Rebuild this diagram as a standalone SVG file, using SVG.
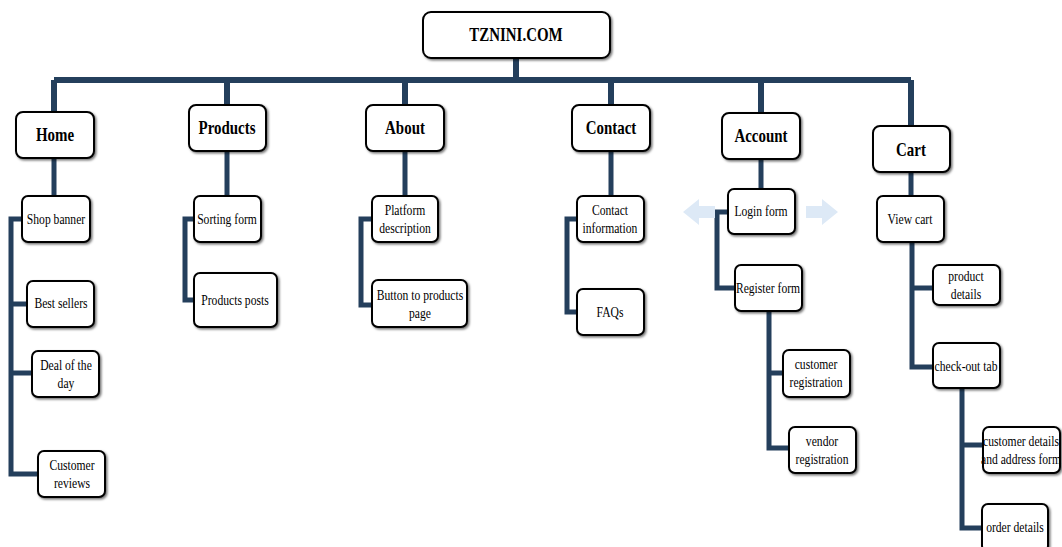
<svg xmlns="http://www.w3.org/2000/svg" width="1062" height="547" viewBox="0 0 1062 547">
  <defs>
    <filter id="shadow" x="-10%" y="-10%" width="130%" height="140%">
      <feDropShadow dx="1.5" dy="1.5" stdDeviation="0.8" flood-color="#000" flood-opacity="0.55"/>
    </filter>
    <style>
      .box { fill: #ffffff; stroke: #000000; stroke-width: 2; filter: url(#shadow); }
      .wire { fill: none; stroke: #243f5c; stroke-width: 5; stroke-linejoin: miter; }
      .bar { fill: none; stroke: #243f5c; stroke-width: 6; }
      .hint { fill: #dde9f6; }
      text { font-family: "Liberation Serif", "Times New Roman", serif; fill: #000; text-anchor: middle; }
      .t1 { font-size: 18px; font-weight: bold; }
      .t2 { font-size: 14px; }
    </style>
  </defs>
  <rect width="1062" height="547" fill="#ffffff"/>

  <!-- connectors -->
  <g id="connectors">
    <path class="bar" d="M516,58 V80 M54,80 H911 M54,80 V113 M227,80 V106 M405,80 V106 M611,80 V106 M761,80 V114 M911,80 V127"/>
    <!-- Home branch -->
    <path class="wire" d="M54,158 V197 M24,219 H11 V474 H40 M11,304 H29 M11,373 H34"/>
    <!-- Products branch -->
    <path class="wire" d="M227,151 V197 M196,219 H185 V300 H196"/>
    <!-- About branch -->
    <path class="wire" d="M405,151 V197 M374,219 H361 V305 H374"/>
    <!-- Contact branch -->
    <path class="wire" d="M611,151 V197 M579,219 H567 V312 H579"/>
    <!-- Account branch -->
    <path class="wire" d="M761,159 V190 M730,212 H717 V288 H737 M769,311 V448 H791 M769,373 H785"/>
    <!-- Cart branch -->
    <path class="wire" d="M911,172 V197 M912,242 V367 H935 M912,288 H935 M962,388 V528 H984 M962,445 H985"/>
  </g>

  <!-- faint direction hints beside the login form -->
  <g id="hints">
    <polygon class="hint" points="683,212 699,199 699,206 715,206 715,218 699,218 699,225"/>
    <polygon class="hint" points="838,212 822,199 822,206 806,206 806,218 822,218 822,225"/>
  </g>

  <!-- root -->
  <g id="root">
    <rect class="box" x="423" y="12" width="187" height="46" rx="8"/>
    <text class="t1" transform="translate(516,41) scale(0.83,1)">TZNINI.COM</text>
  </g>

  <!-- top-level pages -->
  <g id="home">
    <rect class="box" x="16" y="112" width="78" height="46" rx="7"/>
    <text class="t1" transform="translate(55,141) scale(0.83,1)">Home</text>
  </g>
  <g id="products">
    <rect class="box" x="189" y="105" width="77" height="46" rx="7"/>
    <text class="t1" transform="translate(227,134) scale(0.83,1)">Products</text>
  </g>
  <g id="about">
    <rect class="box" x="366" y="105" width="78" height="46" rx="7"/>
    <text class="t1" transform="translate(405,134) scale(0.83,1)">About</text>
  </g>
  <g id="contact">
    <rect class="box" x="572" y="105" width="78" height="46" rx="7"/>
    <text class="t1" transform="translate(611,134) scale(0.83,1)">Contact</text>
  </g>
  <g id="account">
    <rect class="box" x="722" y="113" width="78" height="46" rx="7"/>
    <text class="t1" transform="translate(761,142) scale(0.83,1)">Account</text>
  </g>
  <g id="cart">
    <rect class="box" x="873" y="126" width="77" height="46" rx="7"/>
    <text class="t1" transform="translate(911,156) scale(0.83,1)">Cart</text>
  </g>

  <!-- Home children -->
  <g id="shop-banner">
    <rect class="box" x="22" y="196" width="68" height="46" rx="6"/>
    <text class="t2" transform="translate(56,224) scale(0.83,1)">Shop banner</text>
  </g>
  <g id="best-sellers">
    <rect class="box" x="27" y="281" width="67" height="46" rx="6"/>
    <text class="t2" transform="translate(61,308) scale(0.83,1)">Best sellers</text>
  </g>
  <g id="deal-of-the-day">
    <rect class="box" x="32" y="351" width="67" height="46" rx="6"/>
    <text class="t2" transform="translate(66,370) scale(0.83,1)"><tspan x="0">Deal of the</tspan><tspan x="0" dy="18">day</tspan></text>
  </g>
  <g id="customer-reviews">
    <rect class="box" x="38" y="451" width="67" height="46" rx="6"/>
    <text class="t2" transform="translate(72,470) scale(0.83,1)"><tspan x="0">Customer</tspan><tspan x="0" dy="18">reviews</tspan></text>
  </g>

  <!-- Products children -->
  <g id="sorting-form">
    <rect class="box" x="194" y="196" width="67" height="46" rx="6"/>
    <text class="t2" transform="translate(227,224) scale(0.83,1)">Sorting form</text>
  </g>
  <g id="products-posts">
    <rect class="box" x="194" y="273" width="83" height="54" rx="6"/>
    <text class="t2" transform="translate(235,305) scale(0.83,1)">Products posts</text>
  </g>

  <!-- About children -->
  <g id="platform-description">
    <rect class="box" x="372" y="196" width="66" height="46" rx="6"/>
    <text class="t2" transform="translate(405,215) scale(0.83,1)"><tspan x="0">Platform</tspan><tspan x="0" dy="18">description</tspan></text>
  </g>
  <g id="button-to-products">
    <rect class="box" x="372" y="280" width="95" height="47" rx="6"/>
    <text class="t2" transform="translate(420,300) scale(0.83,1)"><tspan x="0">Button to products</tspan><tspan x="0" dy="18">page</tspan></text>
  </g>

  <!-- Contact children -->
  <g id="contact-information">
    <rect class="box" x="577" y="196" width="67" height="46" rx="6"/>
    <text class="t2" transform="translate(610,215) scale(0.83,1)"><tspan x="0">Contact</tspan><tspan x="0" dy="18">information</tspan></text>
  </g>
  <g id="faqs">
    <rect class="box" x="577" y="289" width="67" height="46" rx="6"/>
    <text class="t2" transform="translate(610,317) scale(0.83,1)">FAQs</text>
  </g>

  <!-- Account children -->
  <g id="login-form">
    <rect class="box" x="728" y="189" width="67" height="45" rx="6"/>
    <text class="t2" transform="translate(761,216) scale(0.83,1)">Login form</text>
  </g>
  <g id="register-form">
    <rect class="box" x="735" y="265" width="67" height="46" rx="6"/>
    <text class="t2" transform="translate(768,293) scale(0.83,1)">Register form</text>
  </g>
  <g id="customer-registration">
    <rect class="box" x="783" y="350" width="67" height="47" rx="6"/>
    <text class="t2" transform="translate(816,369) scale(0.83,1)"><tspan x="0">customer</tspan><tspan x="0" dy="18">registration</tspan></text>
  </g>
  <g id="vendor-registration">
    <rect class="box" x="789" y="427" width="67" height="46" rx="6"/>
    <text class="t2" transform="translate(822,446) scale(0.83,1)"><tspan x="0">vendor</tspan><tspan x="0" dy="18">registration</tspan></text>
  </g>

  <!-- Cart children -->
  <g id="view-cart">
    <rect class="box" x="877" y="196" width="67" height="46" rx="6"/>
    <text class="t2" transform="translate(910,224) scale(0.83,1)">View cart</text>
  </g>
  <g id="product-details">
    <rect class="box" x="933" y="265" width="67" height="40" rx="6"/>
    <text class="t2" transform="translate(966,281) scale(0.83,1)"><tspan x="0">product</tspan><tspan x="0" dy="18">details</tspan></text>
  </g>
  <g id="check-out-tab">
    <rect class="box" x="933" y="343" width="67" height="45" rx="6"/>
    <text class="t2" transform="translate(966,371) scale(0.83,1)">check-out tab</text>
  </g>
  <g id="customer-details">
    <rect class="box" x="983" y="427" width="77" height="46" rx="6"/>
    <text class="t2" transform="translate(1021,446) scale(0.83,1)"><tspan x="0">customer details</tspan><tspan x="0" dy="18">and address form</tspan></text>
  </g>
  <g id="order-details">
    <rect class="box" x="982" y="504" width="66" height="48" rx="6"/>
    <text class="t2" transform="translate(1015,532) scale(0.83,1)">order details</text>
  </g>
</svg>
